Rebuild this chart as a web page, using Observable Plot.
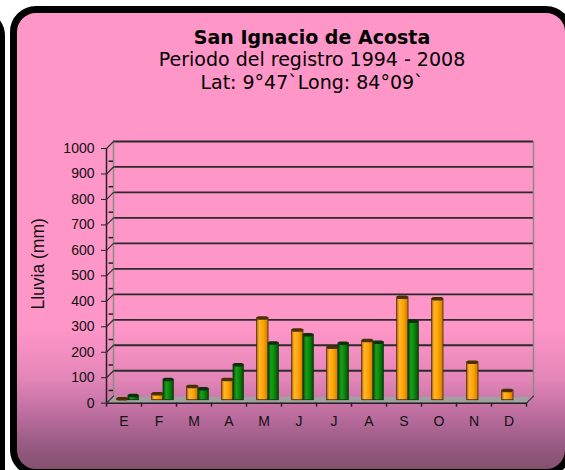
<!DOCTYPE html>
<html><head><meta charset="utf-8">
<script src="https://cdn.jsdelivr.net/npm/d3@7"></script>
<script src="https://cdn.jsdelivr.net/npm/@observablehq/plot@0.6"></script>
<style>
html,body{margin:0;padding:0;background:#fff;}
#page{position:relative;width:565px;height:470px;overflow:hidden;background:#fff;}
#leftpanel{position:absolute;left:-600px;top:10px;width:605px;height:500px;border:5px solid #000;border-radius:26px;box-sizing:border-box;background:#fff;}
#panel{position:absolute;left:10px;top:6px;width:562px;height:470px;box-sizing:border-box;border:7px solid #000;border-radius:26px;
 background:linear-gradient(to bottom,#ff96c8 0px,#ff96c8 315px,#e486b8 365px,#b86b9c 405px,#9a5c84 430px,#84506e 456px);}
#content{position:absolute;left:0;top:0;width:565px;}
#titles{box-sizing:border-box;height:100px;width:624px;padding-top:25.75px;text-align:center;font-family:"DejaVu Sans",Verdana,sans-serif;color:#000;font-size:19px;line-height:22.5px;white-space:nowrap;}
#titles .t{font-weight:bold;font-size:19px;}
#chart svg{display:block;}
#chart svg text{font-size:14px;}
</style></head>
<body>
<div id="page">
 <div id="leftpanel"></div>
 <div id="panel"></div>
 <div id="content">
  <div id="titles"></div>
  <div id="chart"></div>
 </div>
</div>
<script>
const titleLines = ["San Ignacio de Acosta", "Periodo del registro 1994 - 2008", "Lat: 9°47`Long: 84°09`"];
const months = ["E","F","M","A","M","J","J","A","S","O","N","D"];
const serieNaranja = [6, 25, 54, 81, 323, 276, 208, 234, 404, 398, 149, 38];
const serieVerde = [18, 81, 45, 139, 225, 257, 224, 228, 310, null, null, null];
const yTicks = [0,100,200,300,400,500,600,700,800,900,1000];
const yMinor = [50,150,250,350,450,550,650,750,850,950];
const yLabel = "Lluvia (mm)";

const tdiv = document.getElementById("titles");
titleLines.forEach((s,k)=>{const d=document.createElement("div"); d.textContent=s; if(k===0) d.className="t"; d.style.whiteSpace="pre"; tdiv.appendChild(d);});

const idx = months.map((m,i)=>i);
const rowsA = idx.map(i=>({i, v: serieNaranja[i]})).filter(d=>d.v!=null);
const rowsB = idx.map(i=>({i, v: serieVerde[i]})).filter(d=>d.v!=null);

const half = 17.5, depth = 7;
const lineShape = {draw(context, l){ context.moveTo(0, 0); context.lineTo(0, -l); }};
const chart = Plot.plot({
  width: 565, height: 370,
  marginTop: 48, marginBottom: 67.3, marginLeft: 106, marginRight: 39,
  style: {background: "transparent", fontFamily: "'Liberation Sans', Arial, sans-serif", fontSize: "14px", color: "#111", overflow: "visible"},
  x: {type: "band", domain: idx, padding: 0, axis: null},
  y: {domain: [0, 1000], axis: null},
  marks: [
    Plot.ruleY([0], {dx: depth/2, dy: -depth/2, stroke: "#a0a0a0", strokeWidth: 6}),
    Plot.ruleY(yTicks.filter(d=>d>0), {dx: depth, dy: -depth, stroke: "#2b2b2b", strokeWidth: 1.8}),
    Plot.ruleX([0], {x: d=>d, y1: 0, y2: 1000, dx: -half + depth, dy: -depth, stroke: "#8a8a8a", strokeWidth: 1.5}),
    Plot.ruleX([11], {x: d=>d, y1: 0, y2: 1000, dx: half + depth, dy: -depth, stroke: "#8a8a8a", strokeWidth: 1.5}),
    Plot.ruleX([0], {x: d=>d, y1: 0, y2: 1000, dx: -half, stroke: "#222", strokeWidth: 1.5}),
    Plot.ruleY([0], {stroke: "#222", strokeWidth: 1.5}),
    Plot.vector(yTicks, {x: d=>0, y: d=>d, length: depth * Math.SQRT2, rotate: 45, anchor: "start", shape: lineShape, dx: -half, stroke: "#333", strokeWidth: 1.2}),
    Plot.vector([0], {x: d=>11, y: d=>d, length: depth * Math.SQRT2, rotate: 45, anchor: "start", shape: lineShape, dx: half, stroke: "#333", strokeWidth: 1.2}),
    Plot.tickY(yMinor, {x: d=>0, y: d=>d, insetLeft: 2.5, insetRight: 35-7, stroke: "#222", strokeWidth: 1.5}),
    Plot.ruleX(idx, {x: d=>d, y1: 0, y2: 0, dx: -half, insetBottom: -4, stroke: "#222", strokeWidth: 1.5}),
    Plot.ruleX([11], {x: d=>d, y1: 0, y2: 0, dx: half, insetBottom: -4, stroke: "#222", strokeWidth: 1.5}),
    Plot.axisY(yTicks, {tickSize: 5, tickPadding: 7, fontSize: 14, label: null, stroke: "#222", tickFormat: d => String(d)}),
    Plot.axisX(idx, {tickSize: 0, tickPadding: 13, fontSize: 14, label: null, tickFormat: i => months[i]}),
    Plot.barY(rowsA, {x: "i", y: "v", fill: "url(#gOrange)", stroke: "#3a2600", strokeWidth: 0.8, insetLeft: 7.2, insetRight: 16.5, dx: 3.5, dy: -3}),
    Plot.tickY(rowsA, {x: "i", y: "v", stroke: "#4a3000", strokeWidth: 3.5, strokeLinecap: "round", insetLeft: 9, insetRight: 18.3, dx: 3.5, dy: -3}),
    Plot.barY(rowsB, {x: "i", y: "v", fill: "url(#gGreen)", stroke: "#0e2a0e", strokeWidth: 0.8, insetLeft: 18.5, insetRight: 6.2, dx: 3.5, dy: -3}),
    Plot.tickY(rowsB, {x: "i", y: "v", stroke: "#0c300c", strokeWidth: 3.5, strokeLinecap: "round", insetLeft: 20.3, insetRight: 8, dx: 3.5, dy: -3}),
    Plot.text([yLabel], {frameAnchor: "left", textAnchor: "middle", text: d=>d, rotate: -90, dx: -68, dy: -12, fontSize: 17.5, fill: "#111", className: "ylab"})
  ]
});
d3.select(chart).selectAll(".ylab text").style("font-size", "17.5px");
const defs = d3.select(chart).insert("defs", ":first-child");
function grad(id, stops){
  const g = defs.append("linearGradient").attr("id", id).attr("x1","0%").attr("x2","100%").attr("y1","0%").attr("y2","0%");
  stops.forEach(([o,c])=>g.append("stop").attr("offset", o).attr("stop-color", c));
}
grad("gOrange", [["0%","#c87600"],["25%","#ffb52e"],["60%","#ffa200"],["100%","#c97800"]]);
grad("gGreen", [["0%","#004d00"],["30%","#1c9e1c"],["60%","#0b8a0b"],["100%","#005200"]]);
document.getElementById("chart").appendChild(chart);
</script>
</body></html>
